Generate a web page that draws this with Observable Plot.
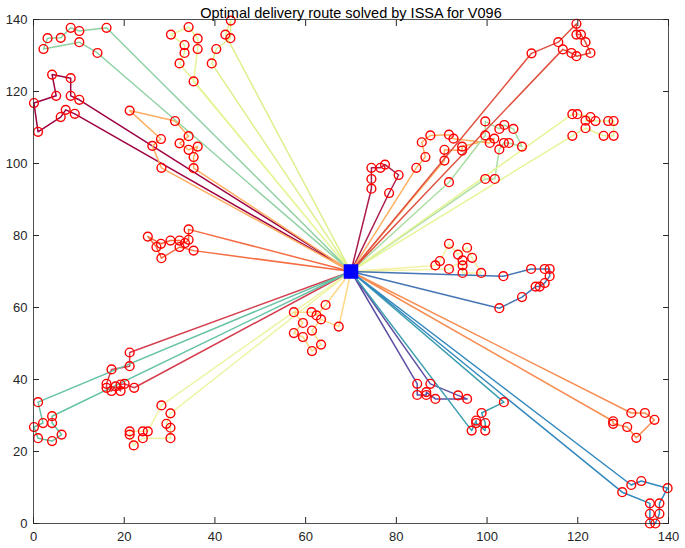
<!DOCTYPE html>
<html><head><meta charset="utf-8">
<script src="https://cdn.jsdelivr.net/npm/d3@7"></script>
<script src="https://cdn.jsdelivr.net/npm/@observablehq/plot@0.6"></script>
<style>body{margin:0;background:#fff} svg{display:block}</style>
</head><body><div id="chart"></div>
<script>
const title = "Optimal delivery route solved by ISSA for V096";
const ticks = [0, 20, 40, 60, 80, 100, 120, 140];
const depot = [70, 70];

const route01 = [[10.1,117.7],[8.2,118.8],[8.2,123.7],[4.1,124.7],[5,118.8],[0.1,116.8],[1,108.8],[6,112.9],[7.1,114.9],[9.1,113.8]];
const route02 = [[16.1,137.7],[10.1,136.8],[8.2,137.7],[6,134.9],[3.1,134.8],[2.2,131.8],[10.1,133.7],[14.1,130.7]];
const route03 = [[32.2,127.8],[33.3,130.7],[33.3,132.9],[30.3,135.8],[34.2,137.9],[36.2,134.7],[36.2,131.8],[35.3,122.8]];
const route04 = [[39.3,127.8],[40.3,131.8],[43.4,134.8],[43.5,139.7],[42.3,135.8]];
const route05 = [[28.2,98.8],[26.2,104.9],[28.1,106.8],[21.2,114.7],[31.2,111.8],[34.2,107.6],[32.2,105.6],[34.2,103.8],[36.2,104.7],[35.3,101.8],[35.3,98.7]];
const route06 = [[74.5,93],[74.5,95.7],[74.5,98.8],[76.5,98.8],[77.5,99.7],[80.5,96.8],[78.4,91.8]];
const route07 = [[84.4,98.8],[86.4,101.8],[85.6,105.9],[87.5,107.8],[91.6,108],[92.6,106.9],[100.6,105.7],[101.6,106.9],[94.5,104.7],[94.5,103.6],[90.6,103.8],[90.6,100.8]];
const route08 = [[91.6,94.8],[99.6,107.8],[99.6,111.7],[102.7,109.6],[103.8,110.7],[105.8,109.6],[107.7,104.7],[104.8,105.7],[103.7,105.7],[102.7,103.9],[101.7,95.7],[99.6,95.7]];
const route09 = [[118.8,113.7],[119.9,113.7],[122.8,112.9],[121.7,111.9],[123.9,111.8],[126.7,111.8],[127.9,111.8],[127.9,107.7],[125.7,107.7],[121.7,109.8],[118.8,107.7]];
const route10 = [[109.8,130.6],[115.7,133.7],[119.7,138.8],[119.7,135.8],[120.7,135.8],[121.7,133.7],[122.8,130.7],[119.7,129.8],[118.6,130.7],[116.7,131.7]];
const route11 = [[34.2,81.7],[34.2,78.8],[33.4,77.9],[32.2,78.6],[30.2,78.6],[28.1,77.7],[25.2,79.7],[27.1,76.8],[28.2,73.7],[32.2,76.8],[35.3,75.8]];
const route12 = [[21.2,47.5],[21.2,43.7],[17.2,42.8],[16.1,38.8],[16.1,37.7],[17.2,36.8],[18.1,38.1],[19.2,36.8],[19.2,38.6],[20.1,38.8],[22.2,37.7]];
const route13 = [[1,33.7],[2.1,27.9],[0.1,26.8],[1,23.7],[4.1,22.9],[6.2,24.7],[4.1,27.9],[4.1,29.8]];
const route14 = [[28.2,32.8],[25.2,25.6],[24.1,25.6],[21.2,25.6],[21.2,24.7],[22.1,21.7],[24.1,23.7],[30.2,23.7],[30.2,26.6],[29.3,27.7],[30.2,30.6]];
const route15 = [[64.4,60.7],[62.4,57.8],[61.3,58.7],[57.4,58.7],[59.4,55.7],[57.4,52.9],[59.4,51.8],[61.4,47.9],[63.4,49.7],[61.4,53.6],[63.4,56.7],[67.3,54.7]];
const route16 = [[88.6,71.7],[89.6,72.9],[91.6,77.7],[93.6,74.7],[95.6,76.6],[96.7,73.8],[98.7,69.6],[94.6,69.6],[94.6,71.7],[94.6,73.1],[91.6,70.7]];
const route17 = [[103.6,68.7],[109.7,70.7],[112.7,70.7],[113.8,70.7],[113.8,68.7],[112.7,66.8],[111.6,65.8],[110.7,65.8],[107.7,62.9],[102.7,59.8]];
const route18 = [[84.6,38.8],[84.6,35.7],[86.6,35.7],[86.6,36.5],[88.6,34.6],[95.6,34.6],[93.6,35.6],[87.5,38.8]];
const route19 = [[103.7,33.7],[98.8,30.7],[99.6,27.9],[99.6,25.8],[97.6,27.9],[97.6,28.6],[96.6,25.8]];
const route20 = [[127.8,28.4],[127.8,27.7],[130.9,26.8],[132.9,23.8],[136.9,28.8],[134.8,30.7],[131.8,30.7]];
const route21 = [[131.8,10.7],[134,11.8],[139.8,9.8],[138,5.6],[138,2.7],[137.1,0],[135.9,0],[135.9,2.7],[135.9,5.6],[129.8,8.7]];

const routes = [route01,route02,route03,route04,route05,route06,route07,route08,route09,route10,route11,route12,route13,route14,route15,route16,route17,route18,route19,route20,route21];
const routeColors = ["#9e0142","#8fd1a2","#e6f598","#dcf08e","#fdae61","#ab1d4d","#fdb063","#abdda4","#e6f598","#e0503f","#f46d43","#d53e4f","#66c2a5","#eef4a4","#fed885","#f2f2a6","#4575b4","#5e4fa2","#3c9fb0","#f68d52","#3288bd"];

const lineRows = routes.flatMap((r, i) => [depot, ...r, depot].map(([x, y]) => ({x, y, route: i, color: routeColors[i]})));
const customers = routes.flatMap(r => r.map(([x, y]) => ({x, y})));

const chart = Plot.plot({
  width: 685, height: 548,
  marginLeft: 33, marginRight: 17, marginTop: 19, marginBottom: 25,
  x: {domain: [0, 140]},
  y: {domain: [0, 140]},
  style: {fontFamily: "'Liberation Sans', Arial, sans-serif", fontSize: "13px", color: "#262626", background: "#fff"},
  marks: [
    Plot.line(lineRows, {x: "x", y: "y", z: "route", stroke: "color", strokeWidth: 1.5}),
    Plot.dot(customers, {x: "x", y: "y", r: 4.4, stroke: "red", strokeWidth: 1.4, fill: "none"}),
    Plot.dot([depot], {x: d => d[0], y: d => d[1], symbol: "square", r: 8.2, fill: "blue", stroke: "none"}),
    Plot.frame({stroke: "#262626", strokeWidth: 0.8}),
    Plot.axisX(ticks, {anchor: "bottom", tickSize: 0, tickPadding: 8, label: null}),
    Plot.axisY(ticks, {anchor: "left", tickSize: 0, tickPadding: 6, label: null}),
    Plot.axisX(ticks, {anchor: "bottom", tickSize: -6, tickFormat: () => "", label: null}),
    Plot.axisX(ticks, {anchor: "top", tickSize: -6, tickFormat: () => "", label: null}),
    Plot.axisY(ticks, {anchor: "left", tickSize: -6, tickFormat: () => "", label: null}),
    Plot.axisY(ticks, {anchor: "right", tickSize: -6, tickFormat: () => "", label: null}),
    Plot.text([title], {frameAnchor: "top", dy: -12, fontSize: 14.5, fill: "#000"})
  ]
});
document.getElementById("chart").appendChild(chart);
</script>
</body></html>
